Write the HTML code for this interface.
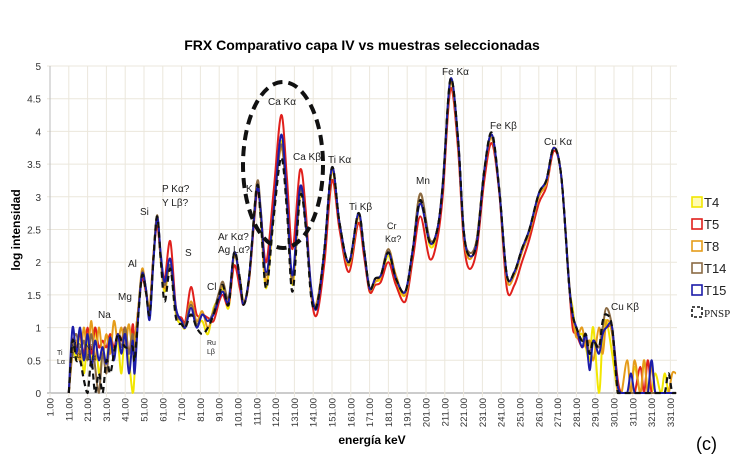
<!DOCTYPE html>
<html><head><meta charset="utf-8"><style>
body{margin:0;background:#fff;}
svg text{font-family:"Liberation Sans",sans-serif;}
</style></head><body>
<svg id="chart" width="742" height="467" xmlns="http://www.w3.org/2000/svg">
<rect width="742" height="467" fill="#fff"/>
<text x="362" y="50" text-anchor="middle" font-size="14" font-weight="bold">FRX Comparativo capa IV vs muestras seleccionadas</text>
<text transform="translate(20,230) rotate(-90)" text-anchor="middle" font-size="12" font-weight="bold">log intensidad</text>
<text x="372" y="444" text-anchor="middle" font-size="12" font-weight="bold">energía keV</text>
<text x="696" y="450" font-size="18">(c)</text>
<g id="grid"></g><g id="axes"></g><g id="series"></g>
<ellipse cx="283" cy="165" rx="40" ry="83" fill="none" stroke="#111" stroke-width="4" stroke-dasharray="10,6"/>
<g id="labels" font-size="10" fill="#222"></g>
<g id="legend"></g>
</svg>
<script>
const channels=[11,13,15,17,19,21,23,25,27,29,31,33,35,37,39,41,43,45,46,48,50,52,54,56,58,60,62,65,68,71,73,76,79,82,85,88,91,93,96,99,102,104,107,111,113,116,120,124,127,130,134,137,140,143,147,151,155,160,165,168,171,174,177,181,185,190,194,198,203,207,210,214,218,221,224,228,232,236,240,244,248,252,256,261,265,269,273,277,279,281,284,286,288,290,293,295,297,300,303,305,308,310,312,315,317,319,321,323,326,328,330,332,334];
const t4=[0,0.7,0.5,0.9,0.3,0.8,0.5,1.0,0.3,0.6,0.5,0.9,0.6,0.8,0.3,1.0,0.5,0,0.3,1.3,1.8,1.55,1.3,2.1,2.65,2.0,1.55,1.95,1.2,1.05,1.0,1.35,1.05,1.1,0.9,1.3,1.45,1.6,1.3,2.1,1.75,1.4,1.75,3.15,2.7,1.6,2.75,3.85,3.0,1.65,3.0,2.6,1.5,1.35,2.2,3.4,2.6,1.95,2.7,2.2,1.55,1.7,1.75,2.1,1.7,1.5,2.15,2.95,2.25,2.45,3.2,4.75,3.85,2.45,2.05,2.35,3.4,3.9,3.1,1.8,1.85,2.2,2.5,3.0,3.25,3.75,3.3,1.7,1.3,0.9,0.9,0.7,0.5,1.0,0,0.9,1.1,0.6,0,0,0,0,0.4,0,0.5,0,0,0.3,0,0.3,0,0,0];
const t5=[0,0.8,0.7,0.9,0.6,1.0,0.6,1.0,0.7,0.8,0.7,0.9,0.7,0.9,0.8,1.0,0.6,1.05,0.8,1.3,1.75,1.55,1.3,2.1,2.55,2.05,1.75,2.32,1.3,1.15,1.1,1.62,1.2,1.2,1.15,1.1,1.4,1.5,1.35,1.95,1.6,1.35,1.75,3.05,2.8,2.0,3.1,4.25,3.3,2.2,3.41,2.8,1.5,1.2,2.0,3.25,2.5,1.85,2.6,2.1,1.55,1.65,1.7,2.0,1.65,1.4,2.05,2.7,2.05,2.35,3.05,4.65,3.75,2.35,1.9,2.2,3.25,3.82,3.05,1.6,1.65,2.0,2.35,2.9,3.15,3.7,3.3,1.7,1.0,0.9,0.7,0.8,0.6,0.8,0.7,0.9,1.0,0.95,0.2,0,0,0,0,0.4,0,0.5,0,0,0,0,0,0,0];
const t8=[0,0.6,0.8,0.5,1.0,0.6,1.1,0.5,1.0,0.6,0.9,0.6,1.1,0.8,1.0,0.7,1.05,0.6,0.8,1.3,1.9,1.6,1.3,2.05,2.7,2.0,1.6,1.95,1.25,1.1,1.05,1.4,1.1,1.25,1.0,1.25,1.5,1.65,1.4,2.1,1.75,1.4,1.8,3.2,2.75,1.7,2.8,3.75,2.9,1.7,3.05,2.6,1.5,1.4,2.2,3.4,2.6,1.95,2.7,2.2,1.6,1.7,1.8,2.2,1.8,1.5,2.2,3.05,2.3,2.5,3.2,4.75,3.85,2.45,2.05,2.35,3.4,3.9,3.1,1.75,1.8,2.15,2.45,3.0,3.2,3.75,3.3,1.7,1.2,0.85,1.0,0.7,0.8,0.5,1.0,0.6,1.1,0.9,0,0,0.5,0,0.5,0,0.5,0,0.4,0,0,0,0,0.3,0.3];
const t14=[0,0.7,0.9,0.6,0.8,0.5,0.9,0.4,0,0.6,0.3,0.8,0.6,0.9,0.7,1.0,0.6,0.9,0.4,1.25,1.85,1.6,1.2,2.05,2.72,2.05,1.65,1.95,1.25,1.1,1.05,1.35,1.05,1.2,1.1,1.25,1.55,1.7,1.45,2.15,1.75,1.35,1.8,3.2,2.85,1.8,2.8,3.8,2.9,1.75,3.1,2.6,1.55,1.35,2.2,3.45,2.6,2.0,2.75,2.2,1.6,1.75,1.8,2.2,1.75,1.55,2.2,3.05,2.35,2.5,3.25,4.8,3.9,2.5,2.15,2.35,3.4,3.95,3.1,1.8,1.85,2.2,2.5,3.05,3.25,3.75,3.3,1.75,1.2,1.0,0.8,0.9,0.6,0.8,0.7,1.0,1.3,1.0,0.1,0,0,0,0,0,0,0,0,0,0,0,0,0,0];
const t15=[0,1.0,0.6,1.0,0.5,0.9,0.4,0.8,0.5,0.7,0.45,0.85,0.5,0.9,0.6,0.9,0.3,0.8,0.3,1.2,1.82,1.6,1.12,2.0,2.68,2.1,1.7,2.05,1.3,1.1,1.0,1.3,1.0,1.2,1.1,1.2,1.45,1.55,1.4,2.15,1.7,1.35,1.8,3.1,2.8,1.85,2.8,3.95,3.0,1.8,3.15,2.6,1.6,1.3,2.2,3.45,2.6,2.0,2.75,2.2,1.6,1.75,1.8,2.15,1.75,1.55,2.2,2.9,2.3,2.5,3.2,4.8,3.9,2.5,2.1,2.3,3.4,3.95,3.1,1.8,1.85,2.2,2.5,3.05,3.25,3.75,3.3,1.7,1.2,1.0,0.7,0.9,0.35,0.8,0.6,0.9,1.0,1.0,0.1,0,0,0.3,0,0,0,0,0.5,0,0,0,0,0,0];
const pnsp=[0,0.8,0.5,0.5,0.2,0,0.5,0,0.3,0,0.5,0.3,0.6,0.9,0.8,0.7,0.7,0.7,0.5,1.2,1.8,1.55,1.2,2.05,2.7,2.0,1.4,1.9,1.15,1.05,1.0,1.2,1.0,0.9,1.0,1.2,1.5,1.65,1.35,2.15,1.75,1.35,1.8,3.15,2.7,1.6,2.7,3.6,2.8,1.55,3.0,2.55,1.45,1.35,2.2,3.45,2.6,2.0,2.75,2.2,1.6,1.75,1.8,2.15,1.75,1.55,2.2,2.95,2.3,2.5,3.2,4.8,3.9,2.5,2.1,2.3,3.4,3.98,3.1,1.8,1.85,2.2,2.5,3.05,3.25,3.75,3.3,1.7,1.2,1.0,0.8,0.9,0.6,0.8,0.7,1.1,1.2,1.0,0,0,0,0,0,0,0,0,0,0,0,0,0.3,0,0];
const seriesNames=["T4","T5","T8","T14","T15","PNSP"];
const seriesColors=["#f2e600","#e0201c","#e59c1a","#8a6a44","#1c1ca8","#111"];
const seriesData=[t4,t5,t8,t14,t15,pnsp];
const yTicks=[0,0.5,1,1.5,2,2.5,3,3.5,4,4.5,5];
const xTickLabels=[];for(let c=1;c<=331;c+=10)xTickLabels.push(c);

const NS="http://www.w3.org/2000/svg";
const X0=50,PX=1.88,Y0=393,PY=65.4,XR=677;
const xs=c=>X0+(c-1)*PX, ys=v=>Y0-v*PY;
function mk(tag,attrs,parent){const e=document.createElementNS(NS,tag);for(const k in attrs)e.setAttribute(k,attrs[k]);parent.appendChild(e);return e;}
const grid=document.getElementById('grid'),axes=document.getElementById('axes');
yTicks.forEach(v=>{
 const l=mk('line',{x1:X0-3,x2:XR,y1:ys(v),y2:ys(v),stroke:v===0?'#999':'#ebe7dc','stroke-width':1},grid);
 
 
 const t=mk('text',{x:X0-9,y:ys(v)+4,'text-anchor':'end','font-size':10,fill:'#333'},axes);
 t.textContent=String(v);
 
 
});
mk('line',{x1:X0,x2:X0,y1:ys(5),y2:Y0,stroke:'#bbb'},axes);
xTickLabels.forEach(c=>{
 const x=xs(c);
 const l=mk('line',{x1:x,x2:x,y1:ys(5),y2:Y0+4,stroke:'#ebe7dc'},grid);
 
 
 const t=mk('text',{transform:`translate(${x+3.5},${Y0+5}) rotate(-90)`,'text-anchor':'end','font-size':9.5,fill:'#333'},axes);
 t.textContent=c.toFixed(2);
 
 
});
function pathFor(vals){
 const p=channels.map((c,i)=>[xs(c),ys(vals[i])]);
 let d=`M${p[0][0]},${p[0][1]}`;
 for(let i=0;i<p.length-1;i++){
  const a=p[Math.max(0,i-1)],b=p[i],c=p[i+1],e=p[Math.min(p.length-1,i+2)];
  const c1x=b[0]+(c[0]-a[0])/6,c1y=Math.min(Y0,b[1]+(c[1]-a[1])/6);
  const c2x=c[0]-(e[0]-b[0])/6,c2y=Math.min(Y0,c[1]-(e[1]-b[1])/6);
  d+=`C${c1x},${c1y} ${c2x},${c2y} ${c[0]},${c[1]}`;
 }
 return d;
}
const sg=document.getElementById('series');
seriesData.forEach((vals,i)=>{
 const p=mk('path',{d:pathFor(vals),fill:'none',stroke:seriesColors[i],'stroke-width':i===5?2.2:2,'stroke-linejoin':'round'},sg);
 if(i===5)p.setAttribute('stroke-dasharray','6,4');
 
 
});
const lg=document.getElementById('legend');
seriesNames.forEach((n,i)=>{
 const y=203+i*22;
 const r=mk('rect',{x:692,y:y-6,width:10,height:10,fill:i===0?'#fffbb0':'#fff',stroke:seriesColors[i],'stroke-width':1.6},lg);
 if(i===5){r.setAttribute('stroke-dasharray','3,2');}
 
 
 const t=mk('text',{x:704,y:y+4,'font-size':i===5?11:13,fill:'#222'},lg);
 if(i===5)t.setAttribute('style','font-family:"Liberation Serif",serif');
 t.textContent=n;
 
 
});
const labels=[["Ti",57,355,7],["Lα",57,364,7],["Mn",70,348,8],["Lα",72,358,8],["Ni",85,350,8],["Lα",87,360,8],["Na",98,318,10],["Mg",118,300,10],["Al",128,267,10],["Si",140,215,10],["P Kα?",162,192,10],["Y Lβ?",162,206,10],["S",185,256,10],["Cl",207,290,10],["Ru",207,345,7],["Lβ",207,354,7],["Ar Kα?",218,240,10],["Ag Lα?",218,253,10],["K",246,192,10],["Ca Kα",268,105,10],["Ca Kβ",293,160,10],["Ti Kα",328,163,10],["Ti Kβ",349,210,10],["Cr",387,229,9],["Kα?",385,242,9],["Mn",416,184,10],["Fe Kα",442,75,10],["Fe Kβ",490,129,10],["Cu Kα",544,145,10],["Cu Kβ",611,310,10]];
const lab=document.getElementById('labels');
labels.forEach(([s,x,y,f])=>{const t=mk('text',{x:x,y:y,'font-size':f},lab);t.textContent=s;
 
 });
</script>
</body></html>
